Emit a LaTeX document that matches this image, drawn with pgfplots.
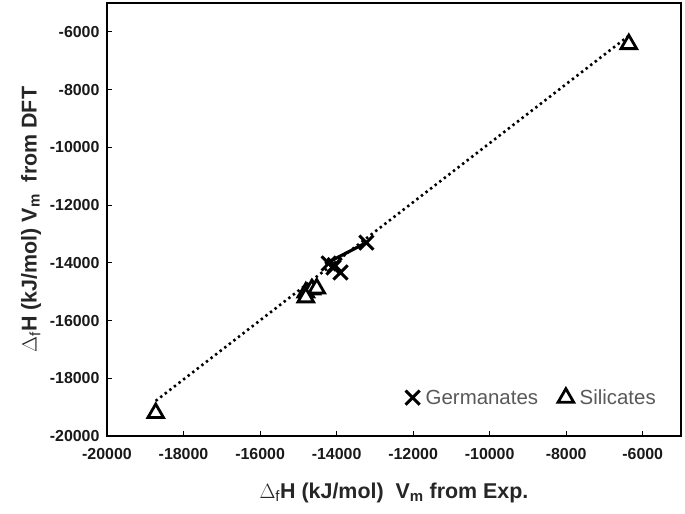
\documentclass[border=0pt]{standalone}
\usepackage{fontspec}
\setmainfont{Liberation Sans}
\usepackage{pgfplots}
\pgfplotsset{compat=1.18}
\definecolor{lgdgray}{HTML}{595959}
\definecolor{lblgray}{HTML}{262626}

\begin{document}
\begin{tikzpicture}
\begin{axis}[
    scale only axis,
    width=574bp, height=433bp,
    xmin=-20000, xmax=-5000,
    ymin=-20000, ymax=-5000,
    xtick={-20000,-18000,...,-6000},
    ytick={-20000,-18000,...,-6000},
    scaled ticks=false,
    tick align=inside,
    tick pos=left,
    major tick length=5bp,
    axis line style={line width=1.3pt},
    tick style={line width=1pt, black},
    /pgf/number format/assume math mode=true,
    /pgf/number format/.cd, set thousands separator={}, /pgfplots/.cd,
    ticklabel style={font=\fontsize{16}{18}\selectfont\bfseries, text=black!90},
    xticklabel style={yshift=-9bp},
    yticklabel style={xshift=-4bp},
    xlabel={$\Delta$\textsubscript{f}\textbf{H (kJ/mol)\ \ V\textsubscript{m} from Exp.}},
    ylabel={$\Delta$\textsubscript{f}\textbf{H (kJ/mol) V\textsubscript{m}\ \ from DFT}},
    label style={font=\fontsize{21.5}{23}\selectfont, text=lblgray},
    xlabel style={yshift=-16bp},
    ylabel style={yshift=2bp},
    legend style={draw=none, fill=none, at={(0.965,0.06)}, anchor=south east,
        legend columns=2, font=\fontsize{20.5}{22}\selectfont, text=lgdgray,
        /tikz/every odd column/.append style={column sep=4bp},
        /tikz/every even column/.append style={column sep=18bp}},
    legend cell align=left,
    clip=false,
]
% silicates trend line (dotted)
\addplot[forget plot, black, line width=2.6pt, dash pattern=on 2.4pt off 3.4pt] coordinates {
    (-18727,-18784) (-6364,-6135)
};
% germanates trend line (solid)
\addplot[forget plot, black, line width=3.2pt] coordinates {
    (-14300,-14040) (-13221,-13299)
};
\addplot[only marks, mark=x, mark size=10bp, mark options={line width=3pt, black}] coordinates {
    (-13221,-13299)
    (-14208,-14024)
    (-14078,-14162)
    (-13896,-14335)
    (-14050,-14080)
};
\addlegendentry{Germanates}
\addplot[only marks, mark=triangle*, mark size=9bp, mark options={line width=2.8pt, draw=black, fill=white}] coordinates {
    (-18727,-19205)
    (-6364,-6425)
    (-14805,-15026)
    (-14649,-14922)
    (-14519,-14888)
    (-14805,-15198)
};
\addlegendentry{Silicates}
\end{axis}
\pgfresetboundingbox
\path[use as bounding box] (-107bp,-78bp) rectangle (578bp,436bp);
\end{tikzpicture}
\end{document}
